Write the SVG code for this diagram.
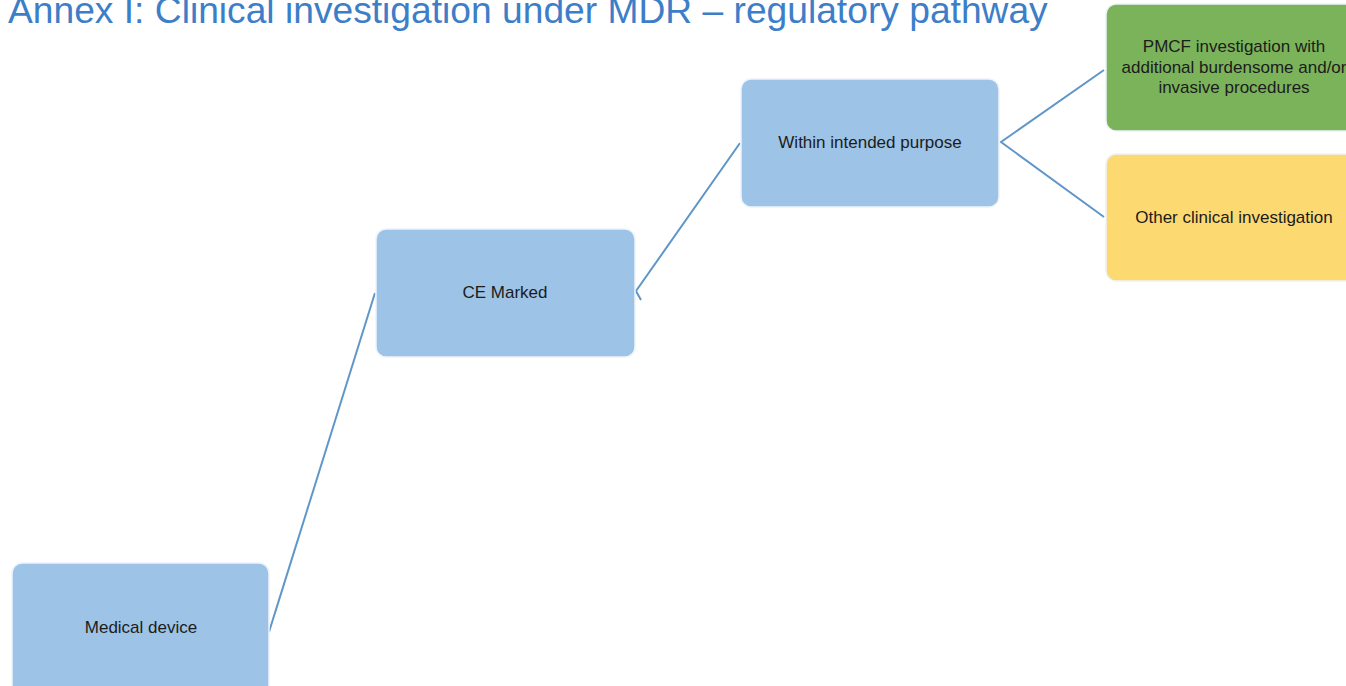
<svg xmlns="http://www.w3.org/2000/svg" width="1346" height="686" viewBox="0 0 1346 686">
<style>
.box{stroke:#eef4fb;stroke-width:1.5}
.blue{fill:#9dc3e6}
.green{fill:#7bb35a}
.yellow{fill:#fdd971}
.lbl{font-family:"Liberation Sans",Arial,sans-serif;font-size:17px;fill:#1c1c1c;text-anchor:middle}
.title{font-family:"Liberation Sans",Arial,sans-serif;font-size:37.2px;fill:#3d7ec8}
.conn{fill:none;stroke:#5f96c9;stroke-width:2}
</style>
<rect width="1346" height="686" fill="#ffffff"/>
<text class="title" x="8" y="23">Annex I: Clinical investigation under MDR – regulatory pathway</text>
<g id="connectors">
<polyline class="conn" points="269,632 375,293"/>
<polyline class="conn" points="740,143 636,291 641,300"/>
<polyline class="conn" points="1104,70 1001,142 1104,217"/>
</g>
<g id="medical-device">
<rect class="box blue" x="12" y="563" width="257" height="132" rx="10"/>
<text class="lbl" x="141" y="633">Medical device</text>
</g>
<g id="ce-marked">
<rect class="box blue" x="376" y="229" width="259" height="128" rx="10"/>
<text class="lbl" x="505" y="298">CE Marked</text>
</g>
<g id="within-intended-purpose">
<rect class="box blue" x="741" y="79" width="258" height="128" rx="10"/>
<text class="lbl" x="870" y="148">Within intended purpose</text>
</g>
<g id="pmcf">
<rect class="box green" x="1106" y="4" width="258" height="127" rx="10"/>
<text class="lbl" x="1234" y="52">PMCF investigation with</text>
<text class="lbl" x="1234" y="73">additional burdensome and/or</text>
<text class="lbl" x="1234" y="93">invasive procedures</text>
</g>
<g id="other-clinical">
<rect class="box yellow" x="1106" y="154" width="258" height="127" rx="10"/>
<text class="lbl" x="1234" y="223">Other clinical investigation</text>
</g>
</svg>
